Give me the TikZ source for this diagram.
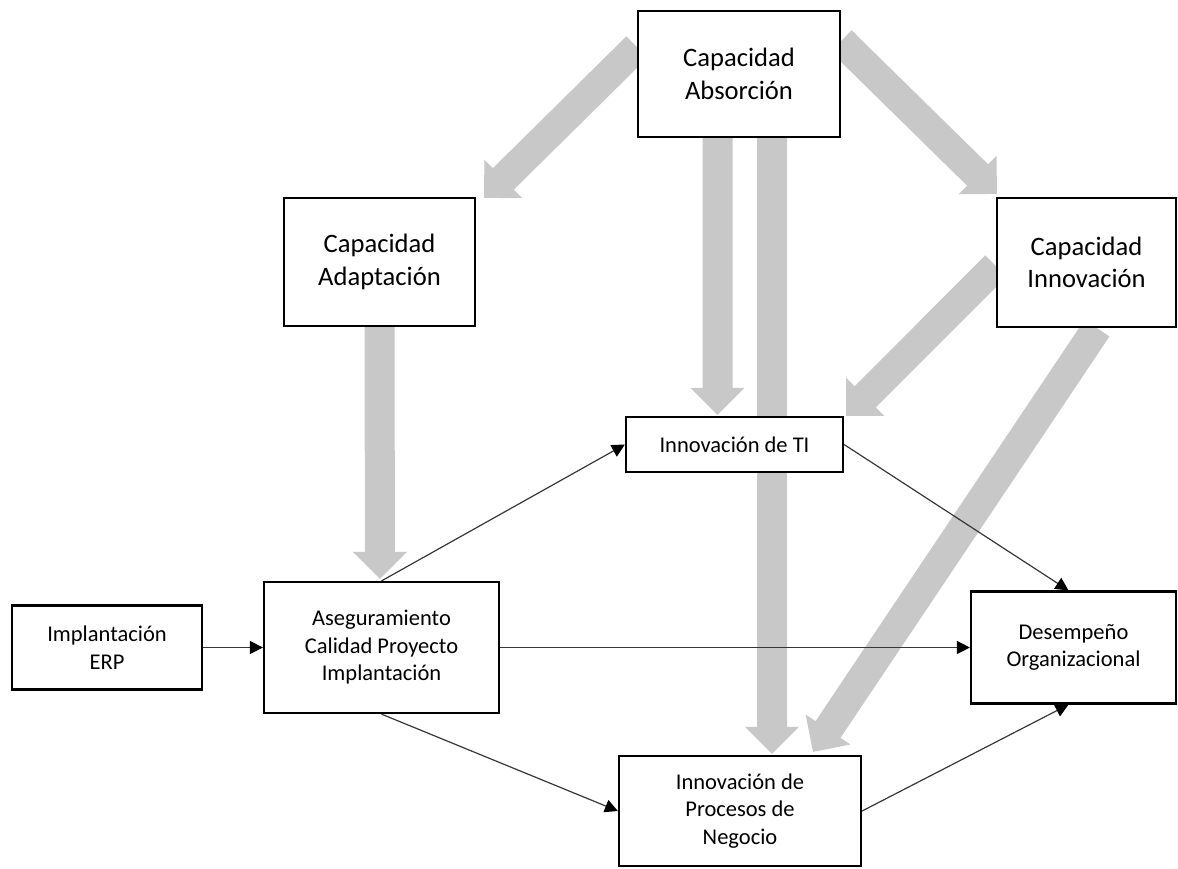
\documentclass[tikz,border=0pt]{standalone}
\usepackage{fontspec}
\setmainfont{Carlito}
\usetikzlibrary{calc,arrows.meta}
\pgfdeclarelayer{background}
\pgfsetlayers{background,main}
\definecolor{blockgray}{RGB}{200,200,200}
\definecolor{linegray}{RGB}{55,55,55}
\tikzset{
  box/.style={draw=black, line width=2.2pt, fill=white, inner sep=0pt, align=center},
  bigtext/.style={font=\fontsize{26.6}{32.5}\selectfont},
  smalltext/.style={font=\fontsize{22.5}{27.5}\selectfont},
  link/.style={draw=linegray, line width=1.2pt, -{Triangle[length=13pt,width=13pt,color=black]}},
  blockfill/.style={fill=blockgray}
}
% wide block arrow from coordinate #1 to tip #2
\newcommand{\blockarrow}[2]{%
  \coordinate (ba-c) at ($(#2)!27pt!(#1)$);
  \fill[blockfill]
    ($(#1)!15pt!90:(#2)$) -- ($(ba-c)!15pt!90:(#2)$) -- ($(ba-c)!27pt!90:(#2)$)
    -- (#2)
    -- ($(ba-c)!27pt!-90:(#2)$) -- ($(ba-c)!15pt!-90:(#2)$) -- ($(#1)!15pt!-90:(#2)$)
    -- cycle;
}
\begin{document}
\begin{tikzpicture}[x=1pt, y=-1pt]
\useasboundingbox (0,0) rectangle (1178,868);

% boxes
\node[box, bigtext, minimum width=202pt, minimum height=126pt] (abs) at (739,74) {Capacidad\\Absorción};
\node[box, bigtext, minimum width=191pt, minimum height=128pt] (adap) at (379.5,262) {Capacidad\\Adaptación};
\node[box, bigtext, minimum width=179pt, minimum height=129pt] (inno) at (1086.5,262.5) {Capacidad\\Innovación};
\node[box, smalltext, minimum width=217pt, minimum height=55pt] (ti) at (734.5,444.5) {Innovación de TI};
\node[box, smalltext, minimum width=190pt, minimum height=84pt] (erp) at (107,647.5) {Implantación\\ERP};
\node[box, smalltext, minimum width=235pt, minimum height=131pt] (aseg) at (381.5,647.5) {Aseguramiento\\Calidad Proyecto\\Implantación};
\node[box, smalltext, minimum width=205pt, minimum height=112pt] (des) at (1073.5,647.5) {Desempeño\\Organizacional};
\node[box, smalltext, minimum width=242pt, minimum height=110pt] (proc) at (740,811) {Innovación de\\Procesos de\\Negocio};

% end points of the block arrows
\coordinate (b1s) at ($(abs.west)+(0,-27)$);
\coordinate (b1e) at ($(adap.north east)+(8,1)$);
\coordinate (b2s) at ($(abs.south)+(-21.5,0)$);
\coordinate (b2e) at ($(ti.north)+(-17,-1)$);
\coordinate (b3s) at ($(abs.south)+(33,0)$);
\coordinate (b3e) at ($(proc.north)+(32,-1)$);
\coordinate (b4s) at ($(abs.east)+(0,-33)$);
\coordinate (b4e) at ($(inno.north west)+(1,-3)$);
\coordinate (b5s) at (adap.south);
\coordinate (b5e) at ($(aseg.north)+(-1.5,-2)$);
\coordinate (b6s) at ($(inno.west)+(0,3.5)$);
\coordinate (b6e) at ($(ti.north east)+(2,0)$);
\coordinate (b7s) at ($(inno.south)+(10.5,0)$);
\coordinate (b7e) at ($(proc.north)+(73,-3)$);

\begin{pgfonlayer}{background}
  \blockarrow{b1s}{b1e}
  \blockarrow{b2s}{b2e}
  \blockarrow{b3s}{b3e}
  \blockarrow{b4s}{b4e}
  \blockarrow{b5s}{b5e}
  \blockarrow{b6s}{b6e}
  \blockarrow{b7s}{b7e}
\end{pgfonlayer}

% thin connectors
\draw[link] (erp.east) -- (aseg.west);
\draw[link] (aseg.north) -- (ti.west);
\draw[link] (ti.east) -- ([xshift=-5pt]des.north);
\draw[link] (aseg.east) -- (des.west);
\draw[link] (aseg.south) -- (proc.west);
\draw[link] (proc.east) -- ([xshift=-5pt]des.south);
\end{tikzpicture}
\end{document}
